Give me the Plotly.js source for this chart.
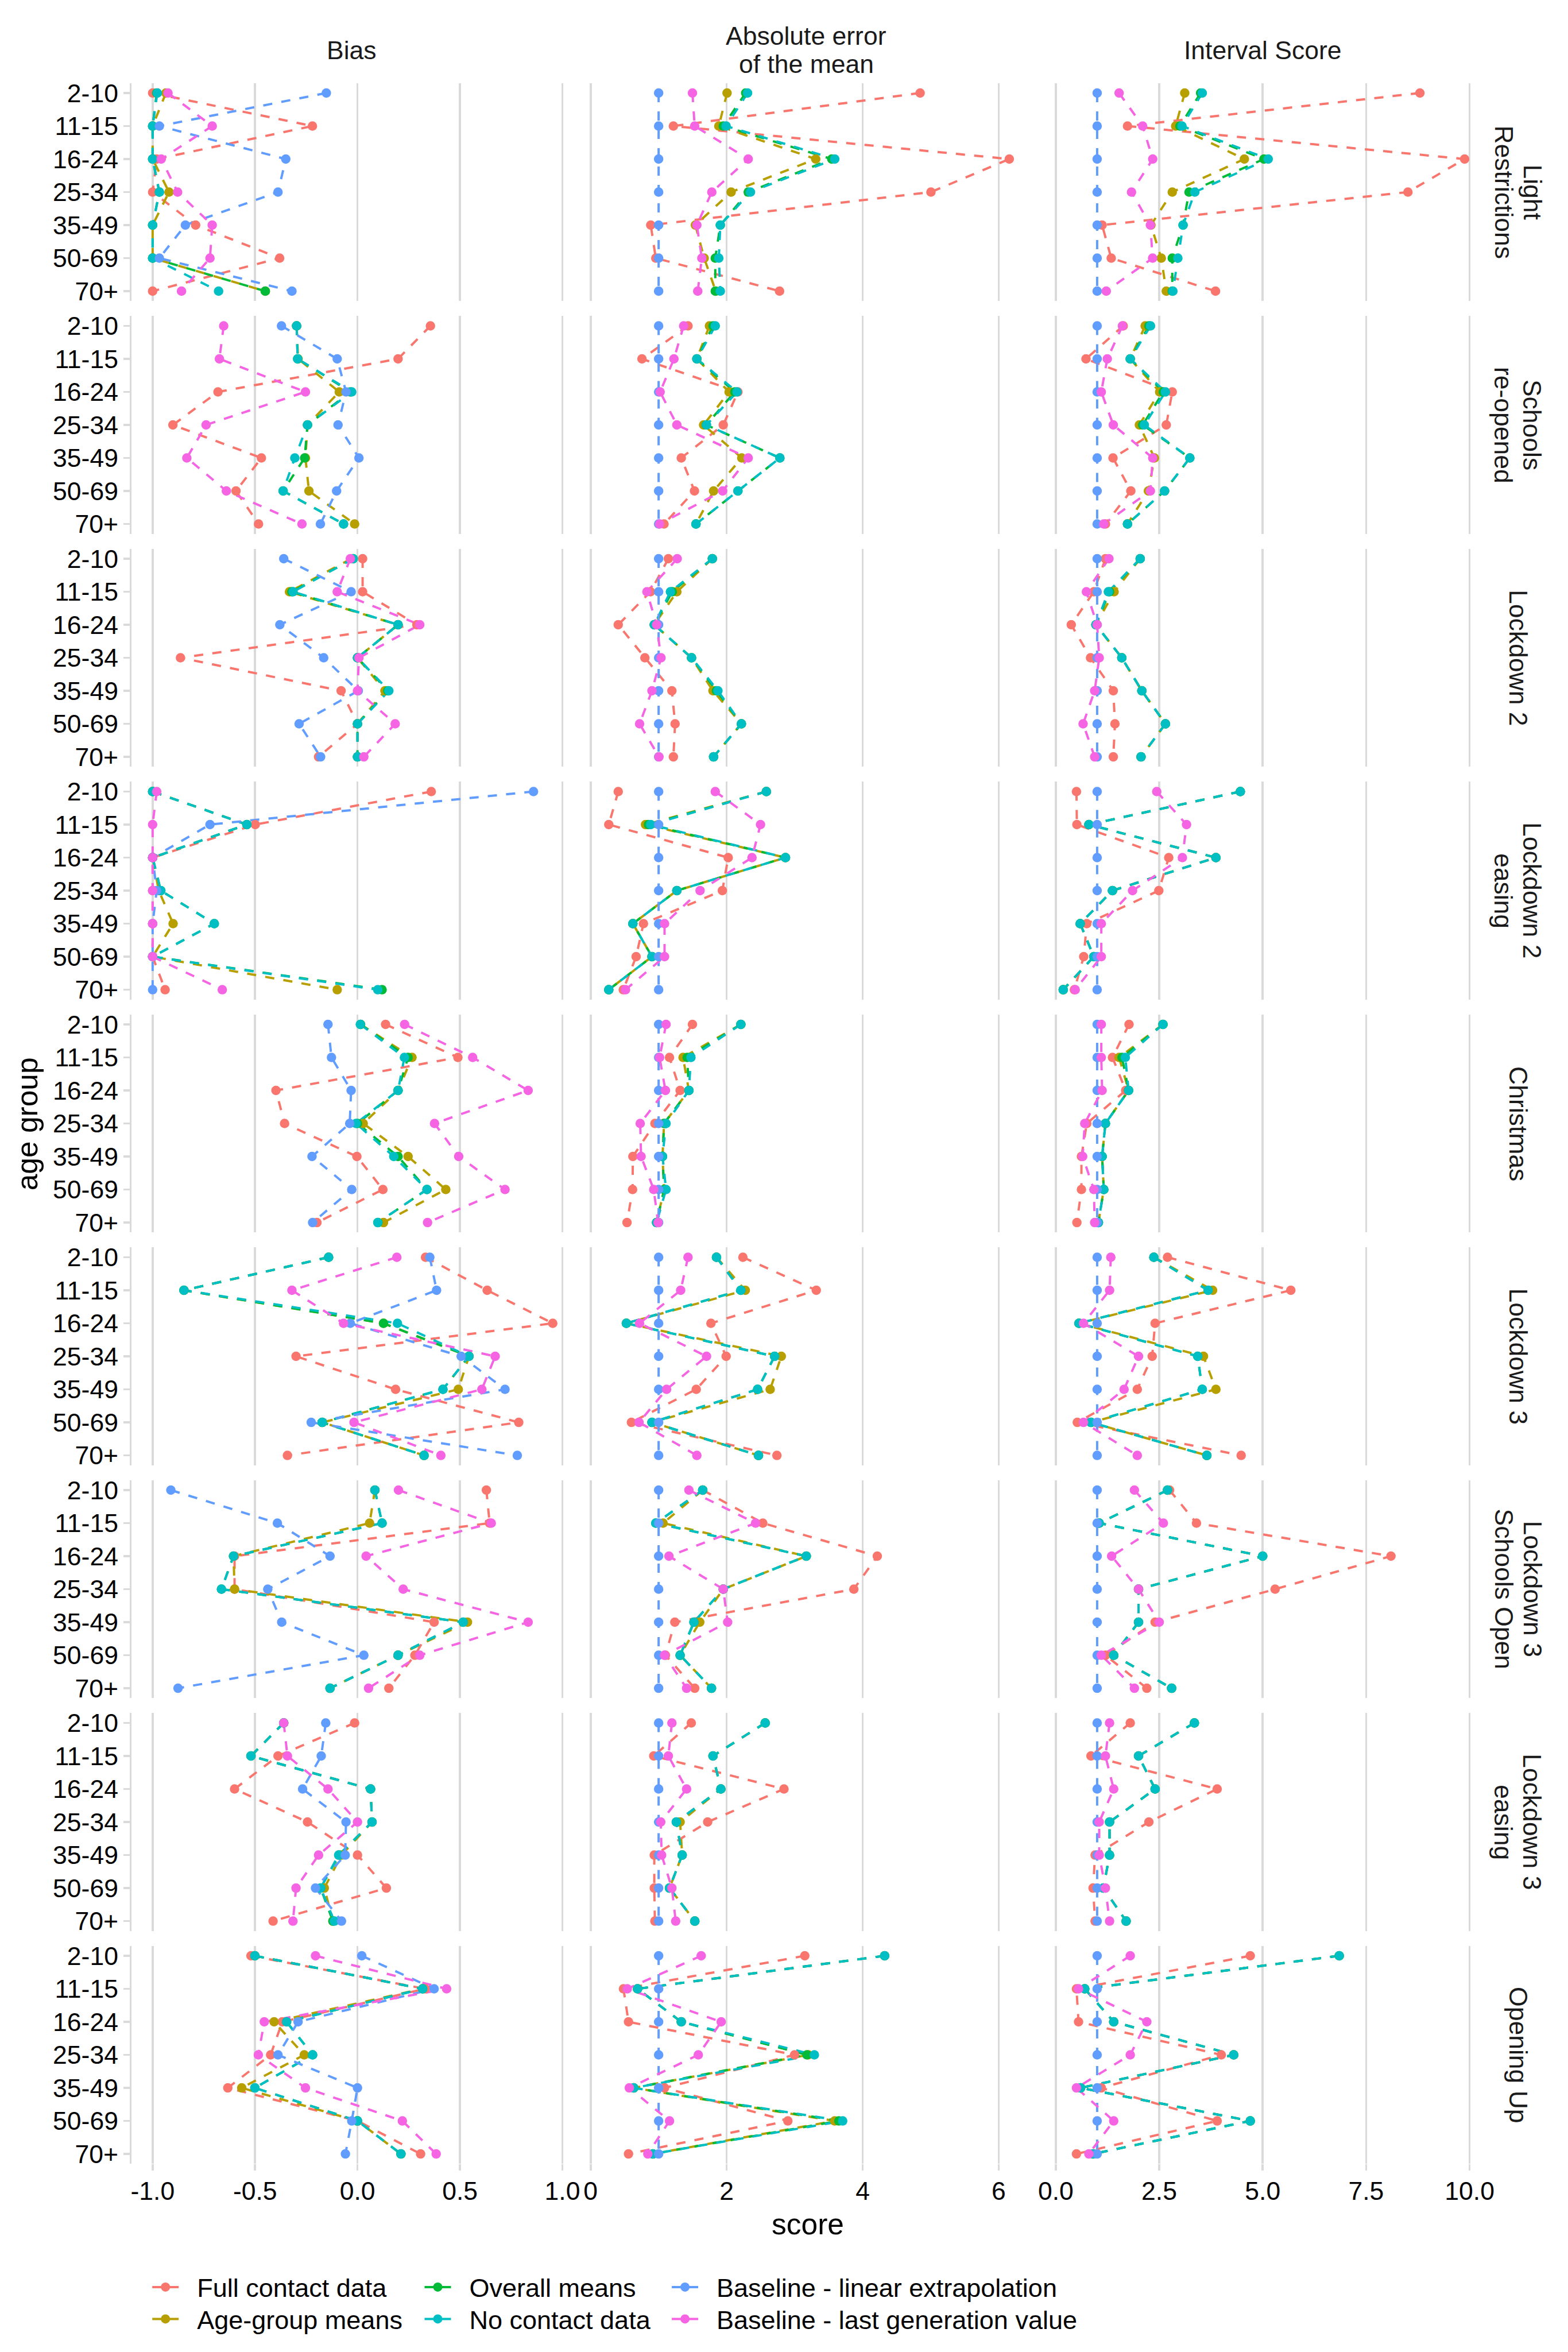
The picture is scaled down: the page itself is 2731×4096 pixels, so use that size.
<!DOCTYPE html>
<html><head><meta charset="utf-8">
<script src="https://cdn.plot.ly/plotly-3.0.1.min.js"></script>
<style>html,body{margin:0;padding:0;background:#fff}</style>
</head><body><div id="chart" style="width:2731px;height:4096px"></div>
<script>
// ---------------- data ----------------
const ageGroups = ["2-10","11-15","16-24","25-34","35-49","50-69","70+"];
// each phase label as its strip lines
const phases = [["Light","Restrictions"],["Schools","re-opened"],["Lockdown 2"],["Lockdown 2","easing"],["Christmas"],["Lockdown 3"],["Lockdown 3","Schools Open"],["Lockdown 3","easing"],["Opening Up"]];
const metrics = [["Bias"],["Absolute error","of the mean"],["Interval Score"]];
const models = ["Full contact data","Age-group means","Overall means","No contact data","Baseline - linear extrapolation","Baseline - last generation value"];
const modelColors = ["#F8766D","#B79F00","#00BA38","#00BFC4","#619CFF","#F564E3"];

const biasTicks = [-1, -0.5, 0, 0.5, 1];
const biasTickText = ["-1.0","-0.5","0.0","0.5","1.0"];
const absTicks = [0, 2, 4, 6];
const absTickText = ["0","2","4","6"];
const intTicks = [0, 2.5, 5, 7.5, 10];
const intTickText = ["0.0","2.5","5.0","7.5","10.0"];

// rows: phases, columns: age groups
const bias_full = [
  [-1.0,-0.22,-0.98,-1.0,-0.79,-0.38,-1.0],
  [0.356,0.198,-0.681,-0.901,-0.469,-0.593,-0.483],
  [0.025,0.025,0.29,-0.864,-0.08,0.0,-0.19],
  [0.36,-0.499,-1.0,-1.0,-1.0,-1.0,-0.939],
  [0.137,0.49,-0.398,-0.356,-0.003,0.124,-0.198],
  [0.332,0.633,0.953,-0.3,0.186,0.787,-0.342],
  [0.629,0.645,-0.6,-0.6,0.374,0.28,0.153],
  [-0.014,-0.388,-0.6,-0.244,0.0,0.141,-0.412],
  [-0.52,0.33,-0.367,-0.424,-0.633,0.0,0.308]
];
const bias_age = [
  [-0.935,-1.0,-1.0,-0.92,-1.0,-1.0,-0.45],
  [-0.297,-0.29,-0.089,-0.244,-0.254,-0.237,-0.014],
  [-0.03,-0.332,0.198,0.0,0.134,0.0,0.0],
  [-1.0,-0.54,-1.0,-0.97,-0.9,-1.0,-0.099],
  [0.015,0.266,0.198,0.028,0.247,0.431,0.127],
  [-0.141,-0.847,0.127,0.544,0.492,-0.172,0.325],
  [0.085,0.059,-0.605,-0.6,0.537,0.198,-0.134],
  [-0.36,-0.52,0.064,0.071,-0.078,-0.162,-0.12],
  [-0.501,0.318,-0.407,-0.26,-0.565,0.0,0.212]
];
const bias_overall = [
  [-0.98,-1.0,-1.0,-0.967,-1.0,-1.0,-0.45],
  [-0.297,-0.292,-0.035,-0.244,-0.258,-0.363,-0.068],
  [-0.021,-0.32,0.198,0.0,0.148,0.0,0.0],
  [-1.0,-0.54,-1.0,-0.96,-0.699,-1.0,0.12],
  [0.015,0.247,0.198,0.0,0.198,0.339,0.1],
  [-0.141,-0.847,0.127,0.544,0.417,-0.172,0.325],
  [0.085,0.12,-0.605,-0.664,0.516,0.198,-0.134],
  [-0.36,-0.52,0.064,0.071,-0.09,-0.18,-0.12],
  [-0.501,0.318,-0.346,-0.219,-0.501,0.0,0.212]
];
const bias_none = [
  [-0.977,-1.0,-1.0,-0.967,-1.0,-1.0,-0.678],
  [-0.297,-0.292,-0.028,-0.244,-0.306,-0.363,-0.068],
  [-0.021,-0.314,0.198,0.0,0.153,0.0,0.0],
  [-1.0,-0.54,-1.0,-0.96,-0.699,-1.0,0.099],
  [0.014,0.229,0.198,-0.007,0.177,0.339,0.099],
  [-0.141,-0.847,0.195,0.544,0.417,-0.172,0.325],
  [0.085,0.12,-0.605,-0.664,0.516,0.198,-0.134],
  [-0.36,-0.52,0.064,0.071,-0.092,-0.18,-0.113],
  [-0.501,0.318,-0.346,-0.219,-0.501,0.0,0.212]
];
const bias_lin = [
  [-0.152,-0.967,-0.35,-0.388,-0.84,-0.967,-0.32],
  [-0.371,-0.099,-0.056,-0.095,0.007,-0.102,-0.181],
  [-0.36,-0.031,-0.379,-0.165,0.004,-0.285,-0.18],
  [0.859,-0.72,-1.0,-0.98,-1.0,-1.0,-1.0],
  [-0.144,-0.127,-0.031,-0.038,-0.222,-0.028,-0.219],
  [0.353,0.386,-0.035,0.506,0.72,-0.226,0.78],
  [-0.911,-0.391,-0.134,-0.438,-0.37,0.031,-0.876],
  [-0.155,-0.177,-0.268,-0.056,-0.06,-0.205,-0.078],
  [0.021,0.374,-0.29,-0.388,0.0,-0.028,-0.059]
];
const bias_last = [
  [-0.925,-0.709,-0.958,-0.878,-0.709,-0.72,-0.859],
  [-0.653,-0.674,-0.254,-0.739,-0.833,-0.64,-0.271],
  [-0.035,-0.099,0.304,0.007,0.0,0.184,0.031],
  [-0.98,-1.0,-1.0,-1.0,-1.0,-1.0,-0.66],
  [0.23,0.562,0.833,0.376,0.494,0.72,0.342],
  [0.192,-0.32,-0.068,0.672,0.607,-0.017,0.407],
  [0.2,0.653,0.042,0.223,0.833,0.304,0.054],
  [-0.36,-0.342,-0.144,0.0,-0.19,-0.3,-0.315],
  [-0.205,0.435,-0.455,-0.484,-0.254,0.219,0.384]
];

const abs_full = [
  [4.845,1.217,6.156,5.004,0.884,0.958,2.778],
  [1.432,0.755,2.166,1.95,1.333,1.527,1.079],
  [1.143,0.88,0.406,0.798,1.195,1.242,1.217],
  [0.406,0.267,2.023,1.937,0.777,0.669,0.48],
  [1.497,1.16,1.316,0.945,0.621,0.617,0.535],
  [2.239,3.318,1.769,1.993,1.553,0.6,2.739],
  [1.65,2.532,4.215,3.87,1.238,1.1,1.531],
  [1.48,0.928,2.843,1.721,0.936,0.936,0.945],
  [3.149,0.483,0.557,2.998,1.087,2.9,0.557]
];
const abs_age = [
  [2.006,1.885,3.31,2.066,1.54,1.67,1.84],
  [1.747,1.562,2.036,1.661,2.222,1.808,1.549],
  [1.79,1.268,0.936,1.484,1.799,2.217,1.808],
  [2.584,0.807,2.865,1.268,0.621,0.902,0.267],
  [2.209,1.359,1.445,1.08,1.057,1.08,0.97],
  [1.851,2.274,0.526,2.804,2.64,0.902,2.468],
  [1.648,1.066,3.171,1.95,1.605,1.316,1.777],
  [2.567,1.799,1.915,1.316,1.346,1.16,1.532],
  [4.323,0.69,1.333,3.2,0.634,3.589,0.915]
];
const abs_overall = [
  [2.28,1.95,3.546,2.317,1.907,1.833,1.833],
  [1.8,1.562,2.12,1.7,2.783,2.166,1.549],
  [1.79,1.2,0.936,1.484,1.85,2.217,1.808],
  [2.584,0.85,2.865,1.268,0.621,0.902,0.267],
  [2.209,1.42,1.445,1.08,1.057,1.08,0.97],
  [1.851,2.209,0.526,2.705,2.455,0.902,2.468],
  [1.648,0.958,3.171,1.95,1.519,1.316,1.777],
  [2.567,1.799,1.915,1.26,1.346,1.16,1.532],
  [4.323,0.69,1.333,3.18,0.634,3.65,0.915]
];
const abs_none = [
  [2.308,1.993,3.59,2.35,1.907,1.885,1.907],
  [1.833,1.562,2.153,1.704,2.783,2.166,1.549],
  [1.79,1.173,0.936,1.484,1.872,2.217,1.808],
  [2.584,0.884,2.865,1.268,0.621,0.902,0.267],
  [2.209,1.475,1.445,1.109,1.057,1.109,0.97],
  [1.851,2.209,0.526,2.705,2.455,0.902,2.468],
  [1.648,0.958,3.171,1.95,1.519,1.316,1.777],
  [2.567,1.799,1.915,1.26,1.346,1.16,1.532],
  [4.323,0.69,1.333,3.29,0.634,3.706,0.915]
];
const abs_lin = [
  [1,1,1,1,1,1,1],[1,1,1,1,1,1,1],[1,1,1,1,1,1,1],
  [1,1,1,1,1,1,1],[1,1,1,1,1,1,1],[1,1,1,1,1,1,1],
  [1,1,1,1,1,1,1],[1,1,1,1,1,1,1],[1,1,1,1,1,1,1]
];
const abs_last = [
  [1.497,1.53,2.317,1.782,1.562,1.635,1.575],
  [1.368,1.225,1.022,1.268,2.317,1.941,1.014],
  [1.273,0.828,0.97,1.035,0.902,0.72,1.005],
  [1.833,2.498,2.373,1.609,1.087,1.087,0.513],
  [1.109,1.014,1.1,0.729,0.742,0.928,0.992],
  [1.432,1.324,0.72,1.704,1.117,0.712,1.562],
  [1.445,2.425,1.152,1.95,2.015,1.087,1.411],
  [1.195,1.143,1.411,1.031,1.044,1.195,1.251],
  [1.626,0.539,1.92,1.583,0.569,1.16,0.841]
];

const int_full = [
  [8.8,1.733,9.88,8.51,1.12,1.34,3.86],
  [1.63,0.73,2.815,2.67,1.383,1.814,1.2],
  [1.2,0.92,0.374,0.84,1.39,1.43,1.39],
  [0.5,0.51,2.73,2.49,0.75,0.675,0.45],
  [1.77,1.37,1.69,0.75,0.62,0.62,0.51],
  [2.7,5.68,2.4,2.33,1.97,0.52,4.48],
  [2.75,3.4,8.1,5.3,2.4,1.2,2.2],
  [1.8,0.85,3.9,2.25,0.95,0.9,0.95],
  [4.7,0.5,0.55,4.0,1.1,3.9,0.5]
];
const int_age = [
  [3.116,2.897,4.557,2.815,2.3,2.55,2.67],
  [2.16,1.8,2.51,2.02,2.384,2.238,1.733],
  [2.04,1.41,0.97,1.595,2.08,2.65,2.06],
  [4.46,0.8,3.87,1.37,0.59,0.92,0.18],
  [2.59,1.53,1.76,1.2,1.12,1.16,1.03],
  [2.37,3.79,0.56,3.57,3.87,0.85,3.65],
  [2.7,1.05,5.0,2.0,2.0,1.4,2.8],
  [3.35,2.0,2.4,1.3,1.3,1.15,1.7],
  [6.85,0.7,1.4,4.3,0.6,4.7,0.9]
];
const int_overall = [
  [3.5,3.0,5.03,3.22,3.076,2.815,2.815],
  [2.25,1.8,2.6,2.1,3.24,2.63,1.733],
  [2.04,1.3,0.97,1.595,2.08,2.65,2.06],
  [4.46,0.8,3.87,1.37,0.59,0.92,0.18],
  [2.59,1.6,1.76,1.2,1.12,1.16,1.03],
  [2.37,3.68,0.56,3.43,3.54,0.85,3.65],
  [2.7,1.05,5.0,2.0,2.0,1.4,2.8],
  [3.35,2.0,2.4,1.3,1.3,1.15,1.7],
  [6.85,0.7,1.4,4.3,0.6,4.7,0.9]
];
const int_none = [
  [3.54,3.05,5.134,3.36,3.076,2.95,2.83],
  [2.29,1.8,2.65,2.14,3.24,2.63,1.733],
  [2.04,1.27,0.97,1.595,2.08,2.65,2.06],
  [4.46,0.8,3.87,1.37,0.59,0.92,0.18],
  [2.59,1.68,1.76,1.2,1.12,1.16,1.03],
  [2.37,3.68,0.56,3.43,3.54,0.85,3.65],
  [2.7,1.05,5.0,2.0,2.0,1.4,2.8],
  [3.35,2.0,2.4,1.3,1.3,1.15,1.7],
  [6.85,0.7,1.4,4.3,0.6,4.7,0.9]
];
const int_lin = [
  [1,1,1,1,1,1,1],[1,1,1,1,1,1,1],[1,1,1,1,1,1,1],
  [1,1,1,1,1,1,1],[1,1,1,1,1,1,1],[1,1,1,1,1,1,1],
  [1,1,1,1,1,1,1],[1,1,1,1,1,1,1],[1,1,1,1,1,1,1]
];
const int_last = [
  [1.53,2.1,2.343,1.83,2.286,2.34,1.22],
  [1.61,1.245,1.1,1.39,2.343,2.286,1.16],
  [1.285,0.74,1.0,1.05,0.94,0.66,0.94],
  [2.44,3.16,3.06,1.855,1.1,1.1,0.47],
  [1.1,1.1,1.12,0.7,0.65,0.92,0.94],
  [1.33,1.3,0.67,2.0,1.65,0.67,1.97],
  [1.9,2.6,1.35,2.0,2.5,1.1,1.9],
  [1.3,1.2,1.4,1.05,1.05,1.2,1.3],
  [1.8,0.55,2.2,1.8,0.5,1.4,0.8]
];

// ---------------- layout geometry (reference px, 3000 x 4500) ----------------
const RW = 3000, RH = 4500, S = 2731 / 3000;
const colX = [[252,1094],[1117,1968],[1991,2841]];
const colRange = [[-1.102,1.046],[-0.1,6.44],[-0.366,10.37]];
const colTicks = [[biasTicks,biasTickText],[absTicks,absTickText],[intTicks,intTickText]];
const rowTop0 = 159, rowPitch = 445.5, panelH = 417;

const metricData = [
  [bias_full,bias_age,bias_overall,bias_none,bias_lin,bias_last],
  [abs_full,abs_age,abs_overall,abs_none,abs_lin,abs_last],
  [int_full,int_age,int_overall,int_none,int_lin,int_last]
];

const FONT = "Liberation Sans, Arial, Helvetica, sans-serif";
const gridCol = "#dadada";
const fs = 44.5;
const traces = [];
const layout = {
  width: 2731, height: 4096,
  margin: {l:0, r:0, t:0, b:0},
  paper_bgcolor: "#ffffff", plot_bgcolor: "#ffffff",
  font: {family: FONT, size: fs, color: "#000000"},
  showlegend: true,
  annotations: []
};

const lineW = 4.0, dash = "16px,16px", msize = 16.5;

for (let r = 0; r < 9; r++) {
  for (let c = 0; c < 3; c++) {
    const n = r*3 + c + 1;
    const xa = n === 1 ? "x" : "x" + n;
    const ya = n === 1 ? "y" : "y" + n;
    const top = rowTop0 + r*rowPitch;
    layout[n === 1 ? "xaxis" : "xaxis" + n] = {
      domain: [colX[c][0]/RW, colX[c][1]/RW],
      anchor: ya, range: colRange[c], type: "linear",
      showgrid: true, gridcolor: gridCol, gridwidth: 4*S,
      zeroline: false, showline: false,
      tickmode: "array", tickvals: colTicks[c][0], ticktext: colTicks[c][1],
      showticklabels: r === 8,
      ticks: r === 8 ? "outside" : "", ticklen: 12*S, tickwidth: 4*S, tickcolor: gridCol,
      ticklabelstandoff: -3,
      tickfont: {family: FONT, size: fs, color: "#000000"},
      fixedrange: true
    };
    layout[n === 1 ? "yaxis" : "yaxis" + n] = {
      domain: [1 - (top + panelH)/RH, 1 - top/RH],
      anchor: xa, type: "category",
      categoryorder: "array", categoryarray: ageGroups,
      range: [6.3, -0.3],
      showgrid: false, zeroline: false,
      showline: c === 0, linecolor: gridCol, linewidth: 4*S,
      showticklabels: c === 0,
      ticks: c === 0 ? "outside" : "", ticklen: 12*S, tickwidth: 4*S, tickcolor: gridCol,
      ticklabelstandoff: 0,
      tickfont: {family: FONT, size: fs, color: "#000000"},
      fixedrange: true
    };
    // lines first
    for (let m = 0; m < 6; m++) {
      traces.push({
        type: "scatter", mode: "lines",
        x: metricData[c][m][r], y: ageGroups,
        xaxis: xa, yaxis: ya,
        line: {color: modelColors[m], width: lineW, dash: dash},
        showlegend: false, hoverinfo: "skip"
      });
    }
    // then points
    for (let m = 0; m < 6; m++) {
      traces.push({
        type: "scatter", mode: "markers",
        x: metricData[c][m][r], y: ageGroups,
        xaxis: xa, yaxis: ya,
        marker: {color: modelColors[m], size: msize, line: {width: 0}},
        showlegend: false, name: models[m]
      });
    }
  }
}

// legend: one legend box per entry, laid out in 3 columns x 2 rows
const legendIds = ["legend","legend2","legend3","legend4","legend5","legend6"];
const legTextX = [377, 377, 898, 898, 1371, 1371];   // reference px, text start
const legRowY = [4376, 4437, 4376, 4437, 4376, 4437]; // reference px, row centre
for (let m = 0; m < 6; m++) {
  traces.push({
    type: "scatter", mode: "lines+markers",
    x: [null], y: [null], xaxis: "x", yaxis: "y",
    name: models[m], legend: legendIds[m],
    line: {color: modelColors[m], width: lineW, dash: "0px,27px,46px,300px"},
    marker: {color: modelColors[m], size: msize},
    showlegend: true, hoverinfo: "skip"
  });
  layout[legendIds[m]] = {
    orientation: "v", yanchor: "middle", xanchor: "left",
    x: (legTextX[m]*S - 110)/2731, y: 1 - legRowY[m]/RH,
    bgcolor: "rgba(0,0,0,0)", borderwidth: 0,
    font: {family: FONT, size: 45, color: "#000000"}, itemwidth: 100
  };
}

// column strip labels
const colCenters = colX.map(a => (a[0]+a[1])/2);
for (let c = 0; c < 3; c++) {
  const lines = metrics[c];
  const ys = lines.length === 1 ? [96] : [69, 122];
  lines.forEach((t, i) => layout.annotations.push({
    text: t, xref: "paper", yref: "paper",
    x: colCenters[c]/RW, y: 1 - ys[i]/RH, xanchor: "center", yanchor: "middle",
    showarrow: false, font: {family: FONT, size: fs, color: "#1a1a1a"}
  }));
}
// row strip labels (rotated, reading top to bottom)
for (let r = 0; r < 9; r++) {
  const top = rowTop0 + r*rowPitch;
  const lines = phases[r];
  const xs = lines.length === 1 ? [2905] : [2932, 2877];
  lines.forEach((t, i) => layout.annotations.push({
    text: t, xref: "paper", yref: "paper",
    x: xs[i]/RW, y: 1 - (top + panelH/2)/RH, xanchor: "center", yanchor: "middle",
    textangle: 90, showarrow: false, font: {family: FONT, size: fs, color: "#1a1a1a"}
  }));
}
// axis titles
layout.annotations.push({
  text: "score", xref: "paper", yref: "paper", x: 1546/RW, y: 1 - 4255/RH,
  xanchor: "center", yanchor: "middle", showarrow: false,
  font: {family: FONT, size: 51.5, color: "#000000"}
});
layout.annotations.push({
  text: "age group", xref: "paper", yref: "paper", x: 52/RW, y: 1 - 2150/RH,
  xanchor: "center", yanchor: "middle", textangle: -90, showarrow: false,
  font: {family: FONT, size: 51.5, color: "#000000"}
});

Plotly.newPlot("chart", traces, layout, {staticPlot: true, displayModeBar: false});
</script></body></html>
